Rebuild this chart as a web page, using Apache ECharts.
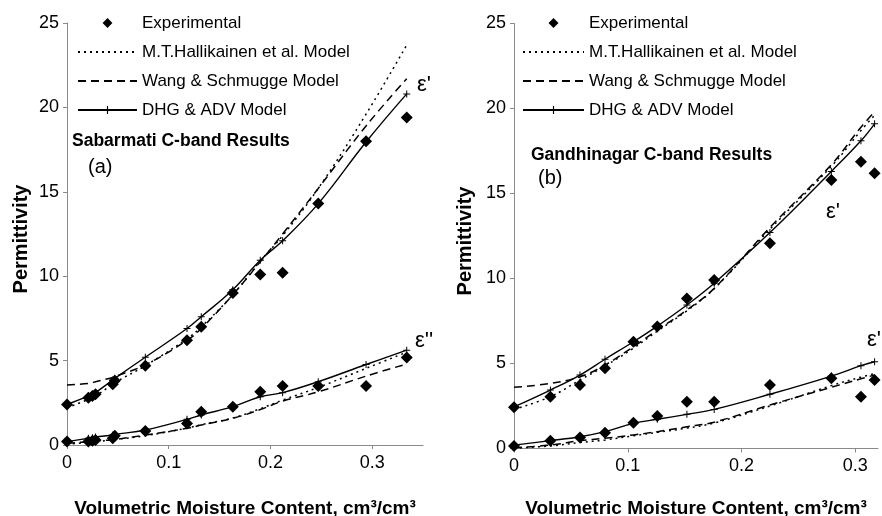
<!DOCTYPE html>
<html>
<head>
<meta charset="utf-8">
<script src="https://cdn.jsdelivr.net/npm/echarts@6/dist/echarts.min.js"></script>
<style>
html,body{margin:0;padding:0;background:#fff;}
#c{width:882px;height:516px;}
</style>
</head>
<body>
<div id="c"></div>
<script>
// ---------- Data ----------
const legendNames = ['Experimental', 'M.T.Hallikainen et al. Model', 'Wang & Schmugge Model', 'DHG & ADV Model'];
const xTicks = [0, 0.1, 0.2, 0.3];
const yTicks = [0, 5, 10, 15, 20, 25];

// (a) Sabarmati
const sabX = [0, 0.021, 0.025, 0.028, 0.045, 0.047, 0.077, 0.118, 0.132, 0.163, 0.190, 0.212, 0.247, 0.294, 0.334];
const sabExpReal = [2.4, 2.8, 2.9, 3.0, 3.6, 3.8, 4.7, 6.2, 7.0, 9.0, 10.1, 10.2, 14.3, 18.0, 19.4];
const sabExpImag = [0.2, 0.2, 0.25, 0.3, 0.4, 0.55, 0.83, 1.28, 1.97, 2.27, 3.15, 3.5, 3.5, 3.5, 5.19];
const sabHalReal = [2.2, 2.7, 2.8, 2.9, 3.6, 3.7, 4.7, 6.3, 7.0, 8.9, 10.9, 12.4, 15.2, 19.6, 23.7];
const sabWangReal = [3.55, 3.65, 3.7, 3.75, 4.0, 4.05, 4.75, 6.2, 6.9, 8.9, 10.85, 12.5, 15.2, 18.9, 21.7];
const sabDhgReal = [2.4, 2.9, 3.0, 3.1, 3.85, 3.95, 5.2, 6.9, 7.6, 9.2, 10.95, 12.1, 14.3, 17.95, 20.8];
const sabHalImag = [0.05, 0.15, 0.18, 0.2, 0.3, 0.32, 0.55, 1.0, 1.2, 1.6, 2.15, 2.66, 3.41, 4.54, 5.5];
const sabWangImag = [0.1, 0.2, 0.22, 0.24, 0.3, 0.32, 0.59, 0.99, 1.18, 1.58, 2.1, 2.6, 3.15, 4.08, 4.8];
const sabDhgImag = [0.2, 0.4, 0.43, 0.47, 0.59, 0.62, 0.89, 1.52, 1.78, 2.27, 2.86, 3.1, 3.75, 4.77, 5.62];

// (b) Gandhinagar
const ganX = [0, 0.032, 0.058, 0.080, 0.105, 0.126, 0.152, 0.176, 0.225, 0.279, 0.305, 0.317];
const ganExpReal = [2.42, 3.05, 3.73, 4.72, 6.28, 7.17, 8.83, 9.91, 12.07, 15.8, 16.87, 16.19];
const ganExpImag = [0.15, 0.46, 0.64, 0.93, 1.52, 1.91, 2.75, 2.75, 3.74, 4.13, 3.05, 4.03];
const ganHalReal = [2.3, 3.05, 4.03, 4.85, 5.9, 6.9, 8.1, 9.4, 12.9, 16.6, 18.7, 19.6];
const ganWangReal = [3.6, 3.83, 4.22, 4.91, 5.99, 6.97, 8.15, 9.42, 13.0, 16.7, 18.9, 19.8];
const ganDhgReal = [2.45, 3.44, 4.32, 5.25, 6.28, 7.2, 8.44, 9.72, 12.7, 16.3, 18.1, 19.1];
const ganHalImag = [0.02, 0.15, 0.35, 0.5, 0.75, 0.95, 1.2, 1.5, 2.5, 3.7, 4.2, 4.4];
const ganWangImag = [0.05, 0.2, 0.46, 0.6, 0.8, 0.99, 1.28, 1.55, 2.56, 3.6, 4.1, 4.32];
const ganDhgImag = [0.2, 0.46, 0.69, 0.99, 1.48, 1.72, 2.01, 2.3, 3.19, 4.26, 4.87, 5.1];

// ---------- Build ----------
const FONT = "'Liberation Sans', Arial, sans-serif";
const pairs = (xs, ys) => xs.map((x, i) => [x, ys[i]]);
const plusPath = 'path://M3,0H4V3H7V4H4V7H3V4H0V3H3Z';
const legendDiamond = 'path://M0,5L0,5M60,5L60,5M25,5L30,0L35,5L30,10Z';

function scatter(name, idx, xs, ys) {
  return {
    type: 'scatter', name, xAxisIndex: idx, yAxisIndex: idx,
    data: pairs(xs, ys), symbol: 'diamond', symbolSize: 12,
    itemStyle: { color: '#000', opacity: 1 }, z: 5
  };
}
function line(name, idx, xs, ys, kind) {
  const s = {
    type: 'line', name, xAxisIndex: idx, yAxisIndex: idx,
    data: pairs(xs, ys), smooth: 0.4,
    lineStyle: { color: '#000', width: 1.4, type: 'solid' },
    itemStyle: { color: '#000' }, symbol: 'none'
  };
  if (kind === 'dot') s.lineStyle = { color: '#000', width: 1.5, type: [2, 4] };
  if (kind === 'dash') s.lineStyle = { color: '#000', width: 1.5, type: [8, 5] };
  if (kind === 'solid') { s.symbol = plusPath; s.symbolSize = 7; s.showSymbol = true; }
  return s;
}

function group(idx, xs, er, ei, hr, wr, dr, hi, wi, di) {
  return [
    line(legendNames[1], idx, xs, hr, 'dot'),
    line(legendNames[2], idx, xs, wr, 'dash'),
    line(legendNames[3], idx, xs, dr, 'solid'),
    line(legendNames[1], idx, xs, hi, 'dot'),
    line(legendNames[2], idx, xs, wi, 'dash'),
    line(legendNames[3], idx, xs, di, 'solid'),
    scatter(legendNames[0], idx, xs, er),
    scatter(legendNames[0], idx, xs, ei)
  ];
}

function xAxis(idx, max, gap) {
  return {
    type: 'value', gridIndex: idx, min: 0, max: max, interval: 0.1,
    splitLine: { show: false },
    axisLine: { lineStyle: { color: '#8a8a8a', width: 1 } },
    axisTick: { length: 4, lineStyle: { color: '#8a8a8a' }, customValues: xTicks },
    axisLabel: { customValues: xTicks, color: '#000', fontSize: 18, fontFamily: FONT, margin: 9,
      formatter: v => (xTicks.some(t => Math.abs(t - v) < 1e-9) ? String(v) : '') },
    name: 'Volumetric Moisture Content, cm³/cm³', nameLocation: 'middle', nameGap: gap,
    nameTextStyle: { color: '#000', fontSize: 19, fontWeight: 'bold', fontFamily: FONT }
  };
}
function yAxis(idx, gap) {
  return {
    type: 'value', gridIndex: idx, min: 0, max: 25, interval: 5,
    splitLine: { show: false },
    axisLine: { show: true, lineStyle: { color: '#8a8a8a', width: 1 } },
    axisTick: { show: true, length: 4, lineStyle: { color: '#8a8a8a' } },
    axisLabel: { color: '#000', fontSize: 18, fontFamily: FONT, margin: 8 },
    name: 'Permittivity', nameLocation: 'middle', nameRotate: 90, nameGap: gap,
    nameTextStyle: { color: '#000', fontSize: 20, fontWeight: 'bold', fontFamily: FONT, padding: [0, 10, 0, 0] }
  };
}
const hideSym = { color: 'rgba(0,0,0,0)', borderWidth: 0, opacity: 0 };
function legend(left, w) {
  return {
    left: left, top: 13, orient: 'vertical', itemWidth: w, itemHeight: 10, itemGap: 9,
    padding: 0, selectedMode: false, symbolKeepAspect: true,
    data: [
      { name: legendNames[0], icon: legendDiamond, itemStyle: { color: '#000', opacity: 1 } },
      { name: legendNames[1], itemStyle: hideSym },
      { name: legendNames[2], itemStyle: hideSym },
      { name: legendNames[3] }
    ],
    textStyle: { color: '#000', fontSize: 17, lineHeight: 20, fontFamily: FONT }
  };
}
const epsStyle = { fontSize: 22, fill: '#000', fontFamily: FONT };

const option = {
  animation: false,
  backgroundColor: '#fff',
  textStyle: { fontFamily: FONT },
  grid: [
    { left: 67, top: 23, width: 356, height: 422, containLabel: false, outerBoundsMode: 'none' },
    { left: 514, top: 23.5, width: 364, height: 425, containLabel: false, outerBoundsMode: 'none' }
  ],
  xAxis: [xAxis(0, 0.35, 54), xAxis(1, 0.32, 51)],
  yAxis: [yAxis(0, 36), yAxis(1, 39)],
  legend: [legend(77, 59), legend(522, 61)],
  title: [
    { text: 'Sabarmati C-band Results', left: 72, top: 132, padding: 0,
      textStyle: { fontSize: 17.5, fontWeight: 'bold', color: '#000', fontFamily: FONT } },
    { text: '(a)', left: 88, top: 157, padding: 0,
      textStyle: { fontSize: 20, fontWeight: 'normal', color: '#000', fontFamily: FONT } },
    { text: 'Gandhinagar C-band Results', left: 531, top: 146, padding: 0,
      textStyle: { fontSize: 17.5, fontWeight: 'bold', color: '#000', fontFamily: FONT } },
    { text: '(b)', left: 538, top: 168, padding: 0,
      textStyle: { fontSize: 20, fontWeight: 'normal', color: '#000', fontFamily: FONT } }
  ],
  graphic: [
    { type: 'text', left: 417, top: 74, style: Object.assign({ text: "ε'" }, epsStyle) },
    { type: 'text', left: 415, top: 330, style: Object.assign({ text: "ε''" }, epsStyle) },
    { type: 'text', left: 826, top: 201, style: Object.assign({ text: "ε'" }, epsStyle) },
    { type: 'text', left: 867, top: 329, style: Object.assign({ text: "ε'" }, epsStyle) }
  ],
  series: [].concat(
    group(0, sabX, sabExpReal, sabExpImag, sabHalReal, sabWangReal, sabDhgReal, sabHalImag, sabWangImag, sabDhgImag),
    group(1, ganX, ganExpReal, ganExpImag, ganHalReal, ganWangReal, ganDhgReal, ganHalImag, ganWangImag, ganDhgImag)
  )
};

const chart = echarts.init(document.getElementById('c'), null, { renderer: 'canvas' });
chart.setOption(option);
</script>
</body>
</html>
